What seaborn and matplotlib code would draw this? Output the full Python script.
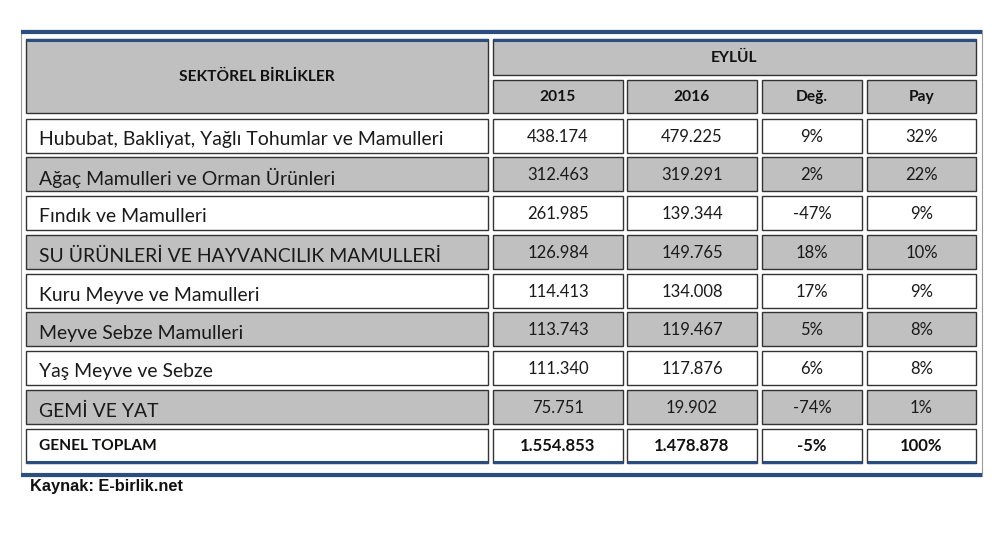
import matplotlib
matplotlib.use("Agg")
import matplotlib.pyplot as plt
from matplotlib.patches import Rectangle
import seaborn as sns

# ---- data ----
categories = [
    "Hububat, Bakliyat, Yağlı Tohumlar ve Mamulleri",
    "Ağaç Mamulleri ve Orman Ürünleri",
    "Fındık ve Mamulleri",
    "SU ÜRÜNLERİ VE HAYVANCILIK MAMULLERİ",
    "Kuru Meyve ve Mamulleri",
    "Meyve Sebze Mamulleri",
    "Yaş Meyve ve Sebze",
    "GEMİ VE YAT",
]
v2015 = [438174, 312463, 261985, 126984, 114413, 113743, 111340, 75751]
v2016 = [479225, 319291, 139344, 149765, 134008, 119467, 117876, 19902]
deg = [9, 2, -47, 18, 17, 5, 6, -74]
pay = [32, 22, 9, 10, 9, 8, 8, 1]
total_label = "GENEL TOPLAM"
total_2015 = 1554853
total_2016 = 1478878
total_deg = -5
total_pay = 100
header_main = "SEKTÖREL BİRLİKLER"
header_month = "EYLÜL"
col_headers = ["2015", "2016", "Değ.", "Pay"]
source = "Kaynak: E-birlik.net"

def fmt(v):
    return f"{v:,}".replace(",", ".")

# ---- layout ----
sns.set_theme(style="white")
BODY_FONT = ["Lato", "DejaVu Sans"]
plt.rcParams["font.family"] = BODY_FONT

W, H = 1008, 556
fig = plt.figure(figsize=(W / 100, H / 100), dpi=100)
ax = fig.add_axes([0, 0, 1, 1])
ax.set_xlim(0, W)
ax.set_ylim(H, 0)
ax.axis("off")

BLUE = "#2c4d80"
GRAY = "#c0c0c0"
EDGE = "#333333"

cols = [(26, 488), (493, 623), (627, 757), (762, 862), (867, 976)]
row_tops = [119, 157, 196, 235, 274, 312, 351, 390, 429]
row_h = 34

# outer frame
ax.add_patch(Rectangle((21, 30), 982 - 21, 476 - 30, facecolor="white",
                       edgecolor="#9a9a9a", lw=0.8, zorder=1))
ax.plot([21, 982], [31.5, 31.5], color=BLUE, lw=3, solid_capstyle="butt", zorder=5)
ax.plot([21, 982], [474.5, 474.5], color=BLUE, lw=3, solid_capstyle="butt", zorder=5)


def cell(x0, x1, y0, y1, fc, top_blue=False, bottom_blue=False):
    ax.add_patch(Rectangle((x0, y0), x1 - x0, y1 - y0, facecolor=fc,
                           edgecolor=EDGE, lw=1.0, zorder=2))
    if top_blue:
        ax.plot([x0, x1], [y0 + 1, y0 + 1], color=BLUE, lw=2.2,
                solid_capstyle="butt", zorder=4)
    if bottom_blue:
        ax.plot([x0, x1], [y1 - 1, y1 - 1], color=BLUE, lw=2.2,
                solid_capstyle="butt", zorder=4)


HDR = 11.2
NUM = 12
CAT = 13.95

# header cells
cell(cols[0][0], cols[0][1], 39, 113, GRAY, top_blue=True)
ax.text((cols[0][0] + cols[0][1]) / 2, 77, header_main, ha="center", va="center",
        fontsize=HDR, fontweight="bold", color="#111111", zorder=6)
cell(cols[1][0], cols[4][1], 39, 75, GRAY, top_blue=True)
ax.text((cols[1][0] + cols[4][1]) / 2, 58, header_month, ha="center", va="center",
        fontsize=HDR, fontweight="bold", color="#111111", zorder=6)
for (x0, x1), lab in zip(cols[1:], col_headers):
    cell(x0, x1, 80, 113, GRAY)
    ax.text((x0 + x1) / 2, 97, lab, ha="center", va="center",
            fontsize=HDR, fontweight="bold", color="#111111", zorder=6)

# data rows
for i, cat in enumerate(categories):
    y0 = row_tops[i]
    y1 = y0 + row_h
    fc = GRAY if i % 2 == 1 else "white"
    vals = [fmt(v2015[i]), fmt(v2016[i]), f"{deg[i]}%", f"{pay[i]}%"]
    for j, (x0, x1) in enumerate(cols):
        cell(x0, x1, y0, y1, fc)
    ax.text(cols[0][0] + 13, (y0 + y1) / 2 + 4, cat, ha="left", va="center",
            fontsize=CAT, color="#1a1a1a", zorder=6)
    for (x0, x1), s in zip(cols[1:], vals):
        ax.text((x0 + x1) / 2, (y0 + y1) / 2 + 1, s, ha="center", va="center",
                fontsize=NUM, color="#1a1a1a", zorder=6)

# total row
y0 = row_tops[-1]
y1 = y0 + row_h
tvals = [fmt(total_2015), fmt(total_2016), f"{total_deg}%", f"{total_pay}%"]
for (x0, x1) in cols:
    cell(x0, x1, y0, y1, "white", bottom_blue=True)
ax.text(cols[0][0] + 13, (y0 + y1) / 2, total_label, ha="left", va="center",
        fontsize=HDR, fontweight="bold", color="#111111", zorder=6)
for (x0, x1), s in zip(cols[1:], tvals):
    ax.text((x0 + x1) / 2, (y0 + y1) / 2, s, ha="center", va="center",
            fontsize=NUM, fontweight="bold", color="#111111", zorder=6)

ax.text(30, 487, source, ha="left", va="center", fontsize=11.8, fontweight="bold",
        family=["Liberation Sans", "DejaVu Sans"], color="#111111", zorder=6)

fig.savefig("out.png", dpi=100, facecolor="white")
